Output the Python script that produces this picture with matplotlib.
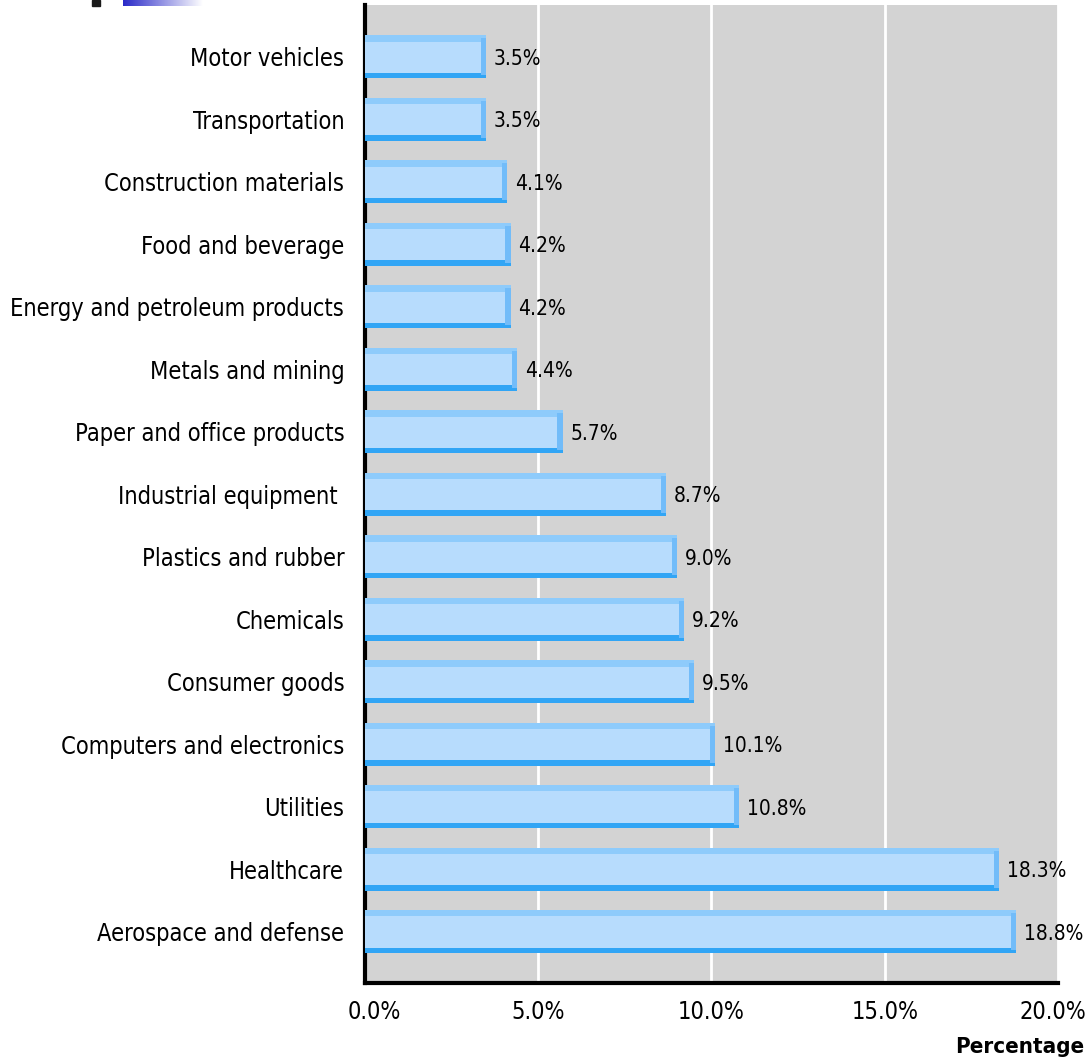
import matplotlib
matplotlib.use("Agg")
import matplotlib.pyplot as plt
from matplotlib import font_manager
from matplotlib.font_manager import FontProperties
from matplotlib.colors import LinearSegmentedColormap
from matplotlib.transforms import ScaledTranslation
import numpy as np

categories = ["Motor vehicles", "Transportation", "Construction materials", "Food and beverage",
              "Energy and petroleum products", "Metals and mining", "Paper and office products",
              "Industrial equipment ", "Plastics and rubber", "Chemicals", "Consumer goods",
              "Computers and electronics", "Utilities", "Healthcare", "Aerospace and defense"]
values = [3.5, 3.5, 4.1, 4.2, 4.2, 4.4, 5.7, 8.7, 9.0, 9.2, 9.5, 10.1, 10.8, 18.3, 18.8]
xticks = [0, 5, 10, 15, 20]
xtick_labels = ["0.0%", "5.0%", "10.0%", "15.0%", "20.0%"]

files = [f.fname for f in font_manager.fontManager.ttflist]
def find(keys):
    for k in keys:
        for fn in files:
            if k.lower() in fn.lower().replace('-', '').replace('_', ''):
                return fn
    return None

reg = find(["LiberationSansNarrowRegular", "DejaVuSansCondensed.ttf"])
bold = find(["LiberationSansNarrowBold.ttf", "DejaVuSansCondensedBold"])
narrow = reg is not None and 'Narrow' in reg
scale = 1.0 if narrow else 0.80
fp_reg = FontProperties(fname=reg) if reg else FontProperties(family='Liberation Sans')
fp_bold = FontProperties(fname=bold) if bold else FontProperties(family='Liberation Sans', weight='bold')

def fp(base, size):
    p = base.copy()
    p.set_size(size * scale)
    return p

fig = plt.figure(figsize=(10.88, 10.60), dpi=100)
ax = fig.add_axes([0.3355, 0.0726, 0.6369, 0.9227])
ax.set_facecolor('#d3d3d3')

y = np.arange(len(categories))
h = 0.69
ax.barh(y, values, height=h, color='#b7dcfd', zorder=3)
ax.barh(y - h/2 + 0.05, values, height=0.1, color='#8ecbfb', zorder=4)
ax.barh(y + h/2 - 0.045, values, height=0.09, color='#31a5f5', zorder=4)
ax.barh(y, [0.15]*len(values), left=np.array(values) - 0.15, height=h - 0.1, color='#72bcf9', zorder=5)

for yi, v in zip(y, values):
    ax.text(v + 0.22, yi + 0.03, f"{v:.1f}%", va='center', ha='left',
            fontproperties=fp(fp_reg, 18.8), color='#000000', zorder=6)

ax.set_xlim(0, 20)
ax.set_ylim(len(categories) - 1 + 0.82, -0.83)
ax.set_xticks(xticks)
ax.set_xticklabels(xtick_labels, fontproperties=fp(fp_reg, 21.2))
ax.set_yticks(y)
ax.set_yticklabels(categories, fontproperties=fp(fp_reg, 21.2))
ax.tick_params(axis='both', length=0)
ax.tick_params(axis='y', pad=15)
ax.tick_params(axis='x', pad=12)
ax.grid(axis='x', color='white', linewidth=2, zorder=1)
ax.set_axisbelow(True)
for s in ['top', 'right']:
    ax.spines[s].set_visible(False)
for s in ['left', 'bottom']:
    ax.spines[s].set_linewidth(3)
    ax.spines[s].set_color('black')

tl = ax.get_xticklabels()
tl[0].set_transform(tl[0].get_transform() + ScaledTranslation(9/100, 0, fig.dpi_scale_trans))
tl[-1].set_transform(tl[-1].get_transform() + ScaledTranslation(-5/100, 0, fig.dpi_scale_trans))

fig.text(0.997, 0.012, "Percentage", ha='right', va='center', fontproperties=fp(fp_bold, 20))

# decorative header marks
fig.patches.append(plt.Rectangle((92/1088, 1 - 6/1060), 8/1088, 6/1060, transform=fig.transFigure,
                                 color='#1a1a1a', figure=fig))
grad = np.linspace(0, 1, 256).reshape(1, -1)
gax = fig.add_axes([123/1088, 1 - 6/1060, 80/1088, 6/1060])
cmap = LinearSegmentedColormap.from_list('g', ['#2a2ac8', '#ffffff'])
gax.imshow(grad, aspect='auto', cmap=cmap)
gax.axis('off')

fig.savefig("out.png", dpi=100)
